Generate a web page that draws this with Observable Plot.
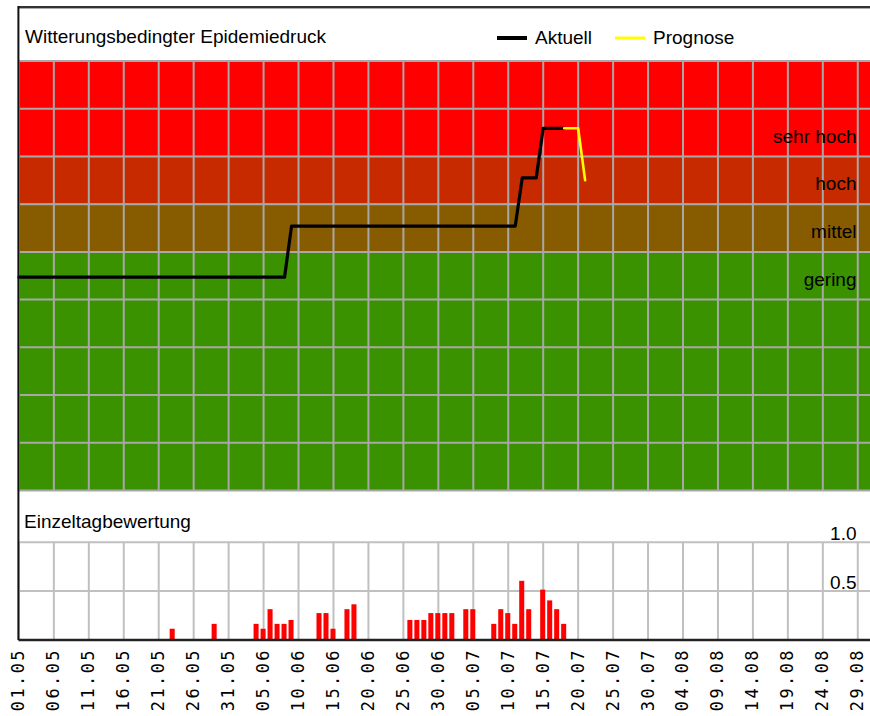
<!DOCTYPE html>
<html><head><meta charset="utf-8">
<script src="https://cdn.jsdelivr.net/npm/d3@7"></script>
<script src="https://cdn.jsdelivr.net/npm/@observablehq/plot@0.6"></script>
<style>
html,body{margin:0;padding:0;background:#fff;}
#root{position:relative;width:870px;height:716px;overflow:hidden;background:#fff;}
#root svg{position:absolute;left:0;}
.xlab g[aria-label="x-axis tick label"] text{letter-spacing:2.4px;}
</style></head><body><div id="root"></div>
<script>
// --- Data ---
const tickTage = [0,5,10,15,20,25,30,35,40,45,50,55,60,65,70,75,80,85,90,95,100,105,110,115,120];
const tickLabels = ["01.05","06.05","11.05","16.05","21.05","26.05","31.05","05.06","10.06","15.06","20.06","25.06","30.06","05.07","10.07","15.07","20.07","25.07","30.07","04.08","09.08","14.08","19.08","24.08","29.08"];

const stufeName = ["gering","mittel","hoch","sehr hoch"];
const stufeVon = [0,5,6,7];
const stufeBis = [5,6,7,9];
const stufeMitte = [4.5,5.5,6.5,7.5];
const stufeFarbe = ["#3a9200","#875b00","#c82a00","#ff0000"];
const yRaster = [0,1,2,3,4,5,6,7,8,9];

const aktuellTag  = [0, 38, 39, 71, 72, 74, 75, 78];
const aktuellWert = [4.47, 4.47, 5.54, 5.54, 6.55, 6.55, 7.59, 7.59];
const prognoseTag  = [78, 80, 81];
const prognoseWert = [7.59, 7.59, 6.5];

const balkenTag  = [22, 28, 34, 35, 36, 37, 38, 39, 43, 44, 45, 47, 48, 56, 57, 58, 59, 60, 61, 62, 64, 65, 68, 69, 70, 71, 72, 73, 75, 76, 77, 78];
const balkenWert = [0.11, 0.16, 0.16, 0.11, 0.31, 0.16, 0.16, 0.20, 0.27, 0.27, 0.11, 0.31, 0.36, 0.20, 0.20, 0.20, 0.27, 0.27, 0.27, 0.27, 0.31, 0.31, 0.16, 0.31, 0.27, 0.16, 0.60, 0.31, 0.51, 0.40, 0.31, 0.16];

const skalaWert = [1.0, 0.5];
const skalaText = ["1.0", "0.5"];

// --- Build tables ---
const stufen = stufeName.map((n, i) => ({name: n, von: stufeVon[i], bis: stufeBis[i], mitte: stufeMitte[i], farbe: stufeFarbe[i]}));
const aktuell = aktuellTag.map((t, i) => ({tag: t, wert: aktuellWert[i]}));
const prognose = prognoseTag.map((t, i) => ({tag: t, wert: prognoseWert[i]}));
const balken = balkenTag.map((t, i) => ({tag: t, wert: balkenWert[i]}));
const skala = skalaWert.map((v, i) => ({wert: v, text: skalaText[i]}));

const X_DOMAIN = [0, 121.82];
const SANS = "'Liberation Sans', Arial, sans-serif";
const root = document.getElementById("root");

// --- Top panel ---
const topChart = Plot.plot({
  width: 870, height: 433,
  marginTop: 1.5, marginBottom: 2, marginLeft: 18.4, marginRight: 0,
  style: {background: "transparent", overflow: "visible"},
  x: {domain: X_DOMAIN, axis: null},
  y: {domain: [0, 9], axis: null},
  color: {type: "identity"},
  marks: [
    Plot.rect(stufen, {x1: X_DOMAIN[0], x2: X_DOMAIN[1], y1: "von", y2: "bis", fill: "farbe"}),
    Plot.ruleX(tickTage, {stroke: "#a8a8a8", strokeWidth: 2}),
    Plot.ruleY(yRaster, {stroke: "#a8a8a8", strokeWidth: 2}),
    Plot.line(aktuell, {x: "tag", y: "wert", stroke: "#000", strokeWidth: 3.2}),
    Plot.line(prognose, {x: "tag", y: "wert", stroke: "#ffff00", strokeWidth: 2.6}),
    Plot.text(stufen, {y: "mitte", text: "name", frameAnchor: "right", dx: -14, textAnchor: "end",
      lineAnchor: "middle", dy: 4, fontSize: 19, fontFamily: SANS, fill: "#000"})
  ]
});
topChart.style.top = "59px";
root.appendChild(topChart);

// --- Bottom panel ---
const bottomChart = Plot.plot({
  width: 870, height: 226,
  marginTop: 51.7, marginBottom: 76.5, marginLeft: 18.4, marginRight: 0,
  className: "xlab",
  style: {background: "transparent", fontFamily: "'DejaVu Sans Mono', monospace", fontSize: "17px", color: "#000", overflow: "visible"},
  x: {domain: X_DOMAIN, ticks: tickTage, tickFormat: d => tickLabels[tickTage.indexOf(d)],
      tickRotate: -90, tickSize: 0, tickPadding: 8},
  y: {domain: [0, 1], axis: null},
  marks: [
    Plot.ruleY(skala, {y: "wert", stroke: "#c0c0c0", strokeWidth: 2}),
    Plot.ruleX(tickTage, {y1: 0, y2: 1, stroke: "#c0c0c0", strokeWidth: 2}),
    Plot.rectY(balken, {x1: d => d.tag - 0.36, x2: d => d.tag + 0.36, y: "wert", fill: "#ff0000"}),
    Plot.ruleY([0], {stroke: "#222", strokeWidth: 2.5}),
    Plot.text(skala, {y: "wert", text: "text", frameAnchor: "right", dx: -14, textAnchor: "end",
      lineAnchor: "bottom", dy: -2.5, fontSize: 19, fontFamily: SANS, fill: "#000"})
  ]
});
bottomChart.style.top = "490px";
root.appendChild(bottomChart);

// --- Titles, legend, frame ---
const ns = "http://www.w3.org/2000/svg";
const ov = document.createElementNS(ns, "svg");
ov.setAttribute("width", 870); ov.setAttribute("height", 716);
ov.style.top = "0px"; ov.style.pointerEvents = "none";
ov.innerHTML = `
  <line x1="18.4" y1="7" x2="870" y2="7" stroke="#333" stroke-width="2"/>
  <line x1="18.4" y1="8.5" x2="870" y2="8.5" stroke="#aaa" stroke-width="1"/>
  <line x1="18.4" y1="6" x2="18.4" y2="640" stroke="#111" stroke-width="2"/>
  <g font-family="${SANS}" font-size="19" fill="#000">
    <text x="25" y="43">Witterungsbedingter Epidemiedruck</text>
    <text x="535" y="44">Aktuell</text>
    <text x="653" y="44">Prognose</text>
    <text x="24" y="528">Einzeltagbewertung</text>
  </g>
  <line x1="497" y1="38" x2="527" y2="38" stroke="#000" stroke-width="4"/>
  <line x1="615" y1="38" x2="645" y2="38" stroke="#ffff00" stroke-width="3"/>
`;
root.appendChild(ov);
</script>
</body></html>
